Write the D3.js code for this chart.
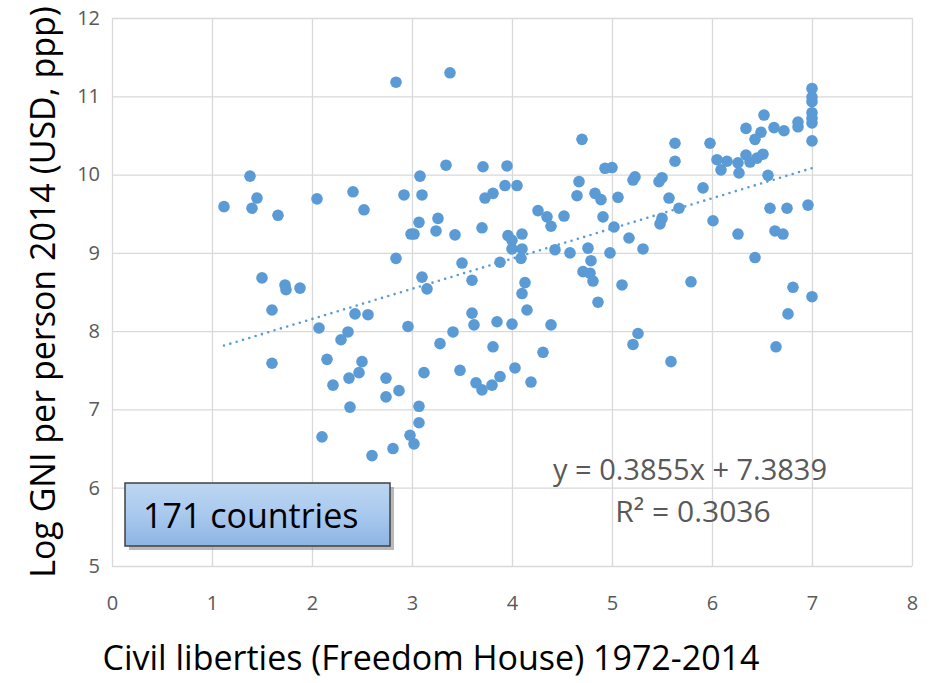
<!DOCTYPE html>
<html>
<head>
<meta charset="utf-8">
<script src="https://d3js.org/d3.v7.min.js"></script>
<style>
  body { margin: 0; background: #fff; }
  text { font-family: "Open Sans", "Noto Sans", sans-serif; }
</style>
</head>
<body>
<svg width="929" height="683"></svg>
<script>
// civil liberties score (x) and log GNI per person (y)
var liberties = [
  1.12, 1.38, 1.40, 1.45, 1.66, 1.50, 1.73, 1.74, 1.88, 1.60, 1.60, 2.05, 2.41, 2.52, 2.07, 2.36,
  2.43, 2.56, 2.29, 2.15, 2.21, 2.37, 2.47, 2.50, 2.38, 2.10, 2.74, 2.74, 2.87, 2.60, 2.81, 2.98,
  3.02, 3.07, 3.07, 3.12, 3.28, 2.96, 3.41, 3.48, 3.64, 3.70, 3.80, 3.81, 3.88, 4.03, 4.19, 4.31,
  3.60, 3.62, 3.85, 4.00, 4.39, 4.15, 4.10, 4.13, 2.84, 3.10, 3.15, 3.50, 3.60, 3.88, 4.09, 2.84,
  3.38, 3.34, 3.71, 3.08, 2.92, 3.10, 3.81, 3.73, 2.99, 3.02, 3.07, 3.26, 3.24, 3.43, 3.70, 4.70,
  3.95, 3.93, 4.05, 4.67, 4.93, 5.00, 5.23, 5.21, 4.65, 4.83, 4.89, 5.06, 4.26, 4.35, 4.39, 4.52,
  4.91, 5.02, 5.17, 5.31, 3.96, 4.00, 4.10, 4.00, 4.10, 4.43, 4.58, 4.76, 4.79, 4.98, 4.71, 4.78,
  4.81, 5.10, 4.86, 5.26, 5.21, 5.59, 6.64, 6.76, 6.81, 7.00, 5.79, 6.43, 6.26, 6.63, 6.71, 6.01,
  6.58, 6.75, 6.96, 5.67, 5.50, 5.48, 5.57, 5.50, 5.47, 5.91, 5.63, 5.63, 5.98, 6.05, 6.15, 6.09,
  6.26, 6.27, 6.34, 6.38, 6.45, 6.51, 6.56, 6.52, 6.34, 6.49, 6.43, 6.62, 6.72, 6.86, 6.86, 7.00,
  7.00, 7.00, 7.00, 7.00, 7.00, 7.00
];
var logGni = [
  9.59, 9.98, 9.57, 9.70, 9.48, 8.68, 8.59, 8.53, 8.55, 8.27, 7.59, 9.69, 9.78, 9.55, 8.04, 7.99,
  8.22, 8.21, 7.89, 7.64, 7.31, 7.40, 7.47, 7.61, 7.03, 6.65, 7.40, 7.16, 7.24, 6.41, 6.50, 6.67,
  6.56, 6.83, 7.04, 7.47, 7.84, 8.06, 7.99, 7.50, 7.34, 7.25, 7.31, 7.80, 7.42, 7.53, 7.35, 7.73,
  8.23, 8.08, 8.12, 8.09, 8.08, 8.27, 8.48, 8.62, 8.93, 8.69, 8.54, 8.87, 8.65, 8.88, 8.93, 11.18,
  11.30, 10.12, 10.10, 9.98, 9.74, 9.74, 9.76, 9.70, 9.24, 9.24, 9.39, 9.44, 9.28, 9.23, 9.32, 10.45,
  10.11, 9.86, 9.86, 9.91, 10.08, 10.09, 9.97, 9.93, 9.73, 9.76, 9.68, 9.71, 9.54, 9.46, 9.34, 9.47,
  9.46, 9.33, 9.19, 9.05, 9.22, 9.16, 9.24, 9.05, 9.05, 9.04, 9.00, 9.06, 8.90, 9.00, 8.76, 8.74,
  8.64, 8.59, 8.37, 7.97, 7.83, 7.61, 7.80, 8.22, 8.56, 8.44, 8.63, 8.94, 9.24, 9.28, 9.24, 9.41,
  9.57, 9.57, 9.61, 9.57, 9.44, 9.37, 9.70, 9.96, 9.91, 9.83, 10.40, 10.17, 10.40, 10.19, 10.17, 10.06,
  10.15, 10.02, 10.25, 10.16, 10.21, 10.26, 9.99, 10.76, 10.59, 10.54, 10.45, 10.60, 10.56, 10.67, 10.61, 11.10,
  10.99, 10.93, 10.79, 10.72, 10.66, 10.43
];
var xTicks = [0, 1, 2, 3, 4, 5, 6, 7, 8];
var yTicks = [5, 6, 7, 8, 9, 10, 11, 12];
var trendSlope = 0.3855, trendIntercept = 7.3839;
var trendRange = [1.12, 7];

var svg = d3.select('svg');
var plotLeft = 112, plotRight = 912, plotTop = 18, plotBottom = 566;

var x = d3.scaleLinear().domain([0, 8]).range([plotLeft, plotRight]);
var y = d3.scaleLinear().domain([5, 12]).range([plotBottom, plotTop]);

// gridlines
svg.append('g')
  .attr('transform', 'translate(0,' + plotBottom + ')')
  .call(d3.axisBottom(x).tickValues(xTicks).tickSize(-(plotBottom - plotTop)).tickFormat(''))
  .call(g => g.select('.domain').remove())
  .call(g => g.selectAll('line').attr('stroke', '#d9d9d9').attr('stroke-width', 1.3));
svg.append('g')
  .attr('transform', 'translate(' + plotLeft + ',0)')
  .call(d3.axisLeft(y).tickValues(yTicks).tickSize(-(plotRight - plotLeft)).tickFormat(''))
  .call(g => g.select('.domain').remove())
  .call(g => g.selectAll('line').attr('stroke', '#d9d9d9').attr('stroke-width', 1.3));

// tick labels
svg.append('g')
  .attr('transform', 'translate(0,' + plotBottom + ')')
  .call(d3.axisBottom(x).tickValues(xTicks).tickSize(0).tickPadding(30).tickFormat(d3.format('d')))
  .call(g => g.select('.domain').remove())
  .call(g => g.selectAll('text').attr('fill', '#595959').style('font-size', '20px')
    .style('font-family', '"Open Sans", sans-serif'));
svg.append('g')
  .attr('transform', 'translate(' + plotLeft + ',0)')
  .call(d3.axisLeft(y).tickValues(yTicks).tickSize(0).tickPadding(12).tickFormat(d3.format('d')))
  .call(g => g.select('.domain').remove())
  .call(g => g.selectAll('text').attr('fill', '#595959').style('font-size', '20px')
    .style('font-family', '"Open Sans", sans-serif'));

// points
svg.append('g').selectAll('circle')
  .data(liberties).enter().append('circle')
  .attr('cx', d => x(d))
  .attr('cy', (d, i) => y(logGni[i]))
  .attr('r', 5.8)
  .attr('fill', '#5b9bd5');

// dotted trendline
svg.append('line')
  .attr('x1', x(trendRange[0])).attr('y1', y(trendSlope * trendRange[0] + trendIntercept))
  .attr('x2', x(trendRange[1])).attr('y2', y(trendSlope * trendRange[1] + trendIntercept))
  .attr('stroke', '#5b9bd5').attr('stroke-width', 2.6)
  .attr('stroke-linecap', 'round').attr('stroke-dasharray', '0,6.6');

// equation
svg.append('text').attr('x', 690).attr('y', 480).attr('text-anchor', 'middle')
  .attr('fill', '#595959').style('font-size', '29px')
  .text('y = 0.3855x + 7.3839');
svg.append('text').attr('x', 693).attr('y', 522).attr('text-anchor', 'middle')
  .attr('fill', '#595959').style('font-size', '30px')
  .text('R² = 0.3036');

// label box
var defs = svg.append('defs');
var grad = defs.append('linearGradient').attr('id', 'boxFill').attr('x1', 0).attr('y1', 0).attr('x2', 0).attr('y2', 1);
grad.append('stop').attr('offset', '0%').attr('stop-color', '#bcd6f2');
grad.append('stop').attr('offset', '50%').attr('stop-color', '#a9c9ee');
grad.append('stop').attr('offset', '100%').attr('stop-color', '#8db4e3');
svg.append('rect').attr('x', 129).attr('y', 487).attr('width', 265).attr('height', 63)
  .attr('fill', '#8a8a8a').attr('opacity', 0.6);
svg.append('rect').attr('x', 125).attr('y', 483).attr('width', 265).attr('height', 63)
  .attr('fill', 'url(#boxFill)').attr('stroke', '#404040').attr('stroke-width', 1.5);
svg.append('text').attr('x', 143).attr('y', 528)
  .attr('fill', '#000').style('font-size', '34px')
  .text('171 countries');

// axis titles
svg.append('text').attr('transform', 'translate(55,292) rotate(-90)')
  .attr('text-anchor', 'middle').attr('fill', '#000').style('font-size', '34px')
  .text('Log GNI per person 2014 (USD, ppp)');
svg.append('text').attr('x', 431).attr('y', 670)
  .attr('text-anchor', 'middle').attr('fill', '#000').style('font-size', '34px')
  .text('Civil liberties (Freedom House) 1972-2014');
</script>
</body>
</html>
